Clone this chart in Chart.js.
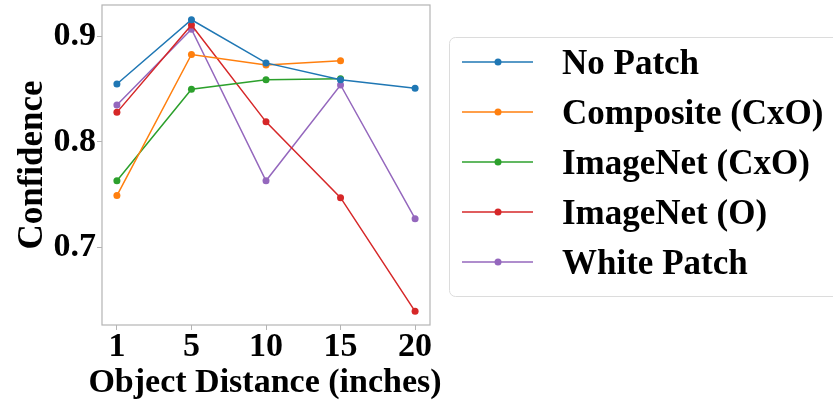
<!DOCTYPE html>
<html>
<head>
<meta charset="utf-8">
<script src="https://cdn.jsdelivr.net/npm/chart.js@4"></script>
<style>
  html, body { margin: 0; padding: 0; background: #fff; }
  #wrap { width: 833px; height: 400px; }
</style>
</head>
<body>
<div id="wrap"><canvas id="c" width="833" height="400"></canvas></div>
<script>
const distances = ['1', '5', '10', '15', '20'];
const noPatch   = [0.855, 0.916, 0.875, 0.859, 0.851];
const composite = [0.749, 0.883, 0.873, 0.877, null];
const imgnetCxO = [0.763, 0.850, 0.859, 0.860, null];
const imgnetO   = [0.828, 0.911, 0.819, 0.747, 0.639];
const whitePat  = [0.835, 0.907, 0.763, 0.854, 0.727];
const yTicks    = [0.7, 0.8, 0.9];
const xTitle    = 'Object Distance (inches)';

const FONT = "'Liberation Serif', 'Times New Roman', serif";
const AXIS_GREY = '#b4b4b4';

function series(label, values, color) {
    return {
        label: label,
        data: values.map((v, i) => ({ x: i, y: v })),
        borderColor: color,
        backgroundColor: color,
        borderWidth: 1.5,
        pointRadius: 3.5,
        pointHoverRadius: 3.5,
        pointBorderWidth: 0,
        spanGaps: false,
        tension: 0
    };
}

// plot frame, x title (full width, not squeezed) + matplotlib-like legend box
const framePlugin = {
    id: 'frame',
    afterDraw(chart) {
        const ctx = chart.ctx, a = chart.chartArea;
        ctx.save();
        ctx.strokeStyle = AXIS_GREY;
        ctx.lineWidth = 1.2;
        ctx.strokeRect(a.left, a.top, a.right - a.left, a.bottom - a.top);

        ctx.fillStyle = '#000';
        ctx.font = 'bold 34px ' + FONT;
        ctx.textAlign = 'center';
        ctx.textBaseline = 'alphabetic';
        ctx.fillText(xTitle, (a.left + a.right) / 2 - 1, 392);

        // legend
        const bx = 449, by = 37, bw = 400, bh = 259;
        ctx.strokeStyle = '#dcdcdc';
        ctx.lineWidth = 1;
        ctx.beginPath();
        ctx.roundRect(bx + 0.5, by + 0.5, bw, bh, 6);
        ctx.stroke();

        ctx.font = 'bold 35px ' + FONT;
        ctx.textBaseline = 'middle';
        ctx.textAlign = 'left';
        chart.data.datasets.forEach((ds, i) => {
            const y = 62 + i * 50;
            ctx.strokeStyle = ds.borderColor;
            ctx.lineWidth = 1.5;
            ctx.beginPath();
            ctx.moveTo(462, y);
            ctx.lineTo(533, y);
            ctx.stroke();
            ctx.fillStyle = ds.borderColor;
            ctx.beginPath();
            ctx.arc(498, y, 3.5, 0, Math.PI * 2);
            ctx.fill();
            ctx.fillStyle = '#000';
            ctx.fillText(ds.label, 562, y + 3);
        });
        ctx.restore();
    }
};

new Chart(document.getElementById('c').getContext('2d'), {
    type: 'line',
    data: {
        datasets: [
            series('No Patch', noPatch, '#1f77b4'),
            series('Composite (CxO)', composite, '#ff7f0e'),
            series('ImageNet (CxO)', imgnetCxO, '#2ca02c'),
            series('ImageNet (O)', imgnetO, '#d62728'),
            series('White Patch', whitePat, '#9467bd')
        ]
    },
    options: {
        responsive: false,
        animation: false,
        layout: { padding: { top: 5, right: 403, left: 0, bottom: 0 } },
        plugins: { legend: { display: false }, tooltip: { enabled: false } },
        scales: {
            x: {
                type: 'linear',
                min: -0.2,
                max: 4.2,
                afterFit: s => { s.height = 75; s.paddingLeft = 0; s.paddingRight = 0; },
                afterBuildTicks: s => { s.ticks = distances.map((d, i) => ({ value: i })); },
                ticks: {
                    callback: v => distances[v],
                    color: '#000',
                    font: { family: FONT, size: 34, weight: 'bold' },
                    padding: -3,
                    maxRotation: 0
                },
                grid: { drawOnChartArea: false, drawTicks: true, tickLength: 5, color: AXIS_GREY },
                border: { display: false }
            },
            y: {
                min: 0.626,
                max: 0.930,
                afterFit: s => { s.width = 102; s.paddingTop = 0; s.paddingBottom = 0; },
                afterBuildTicks: s => { s.ticks = yTicks.map(v => ({ value: v })); },
                ticks: {
                    callback: v => v.toFixed(1),
                    color: '#000',
                    font: { family: FONT, size: 34, weight: 'bold' },
                    padding: 1
                },
                grid: { drawOnChartArea: false, drawTicks: true, tickLength: 5, color: AXIS_GREY },
                border: { display: false },
                title: {
                    display: true,
                    text: 'Confidence',
                    color: '#000',
                    font: { family: FONT, size: 35, weight: 'bold' },
                    padding: { top: 12, bottom: 0 }
                }
            }
        }
    },
    plugins: [framePlugin]
});
</script>
</body>
</html>
